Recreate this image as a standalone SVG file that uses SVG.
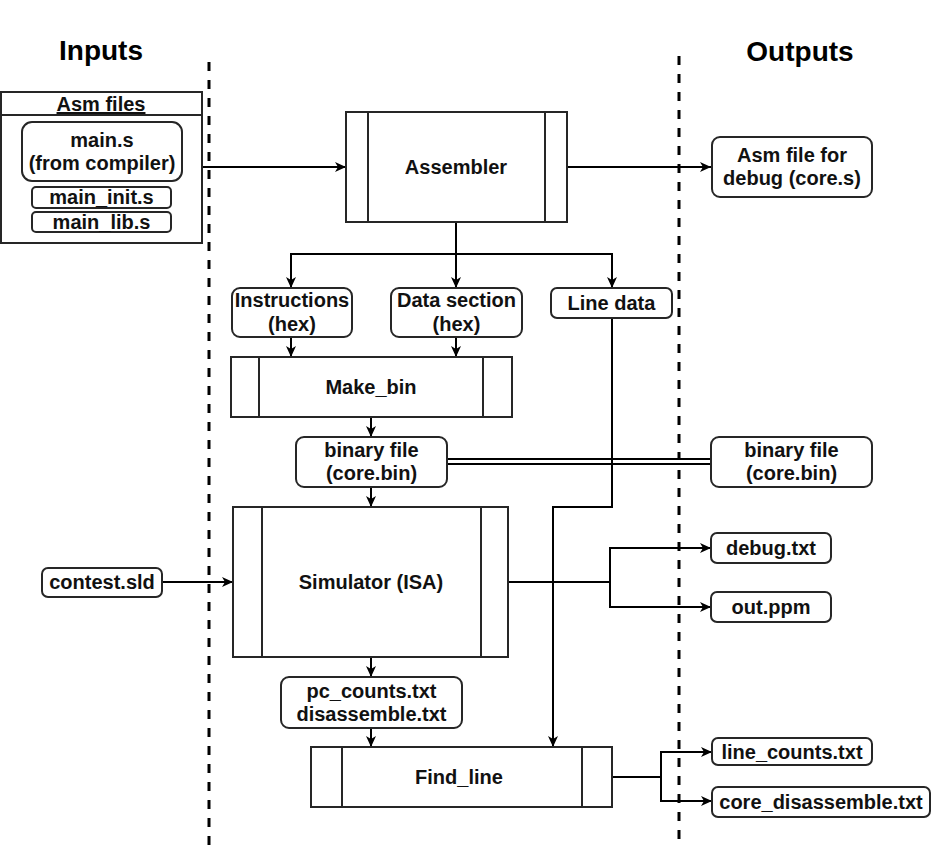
<svg xmlns="http://www.w3.org/2000/svg" width="932" height="848" viewBox="0 0 932 848">
<style>
.box{fill:#fff;stroke:#262626;stroke-width:2}
.t{font-family:"Liberation Sans",Arial,sans-serif;font-weight:bold;font-size:20px;fill:#111;text-anchor:middle}
.title{font-family:"Liberation Sans",Arial,sans-serif;font-weight:bold;font-size:28px;fill:#000;text-anchor:middle}
.c{fill:none;stroke:#000;stroke-width:2}
.ca{fill:none;stroke:#000;stroke-width:2;marker-end:url(#arr)}
.dash{stroke:#000;stroke-width:3;stroke-dasharray:9 9;fill:none}
</style>
<defs>
<marker id="arr" markerUnits="userSpaceOnUse" markerWidth="12" markerHeight="12" refX="11" refY="5" orient="auto" viewBox="0 0 12 10">
<path d="M0,0 L11,5 L0,10 L3,5 Z" fill="#000"/>
</marker>
</defs>
<rect width="932" height="848" fill="#fff"/>

<g id="separators">
<line class="dash" x1="209" y1="62" x2="209" y2="848"/>
<line class="dash" x1="679" y1="56" x2="679" y2="839"/>
</g>

<g id="titles">
<text class="title" x="101" y="60">Inputs</text>
<text class="title" x="800" y="61">Outputs</text>
</g>

<g id="connectors">
<path class="ca" d="M202,167 H346"/>
<path class="ca" d="M567,167 H711"/>
<path class="ca" d="M456,222 V254 H291 V288"/>
<path class="ca" d="M456,222 V288"/>
<path class="ca" d="M456,254 H612 V288"/>
<path class="ca" d="M291,337 V357"/>
<path class="ca" d="M456,337 V357"/>
<path class="ca" d="M371,417 V437"/>
<path d="M447,461.5 H711" fill="none" stroke="#000" stroke-width="7"/>
<path d="M446,461.5 H712" fill="none" stroke="#fff" stroke-width="3"/>
<path class="ca" d="M371,487 V507"/>
<path class="ca" d="M612,318 V507 H553 V747"/>
<path class="ca" d="M162,582 H233"/>
<path class="ca" d="M508,582 H610 V548 H711"/>
<path class="ca" d="M610,582 V607 H711"/>
<path class="ca" d="M371,657 V677"/>
<path class="ca" d="M371,728 V747"/>
<path class="ca" d="M612,777 H661 V752 H712"/>
<path class="ca" d="M661,777 V801 H712"/>
</g>

<g id="asm-files">
<rect class="box" x="1" y="92" width="201" height="151"/>
<line x1="1" y1="115" x2="202" y2="115" stroke="#262626" stroke-width="2"/>
<text class="t" x="101" y="111" text-decoration="underline">Asm files</text>
</g>
<g id="main-s">
<rect class="box" x="22" y="122" width="160" height="59" rx="10"/>
<text class="t" x="102" y="147">main.s</text>
<text class="t" x="102" y="170">(from compiler)</text>
</g>
<g id="main-init">
<rect class="box" x="32" y="187" width="139" height="21" rx="4"/>
<text class="t" x="101.5" y="204">main_init.s</text>
</g>
<g id="main-lib">
<rect class="box" x="32" y="212" width="139" height="20" rx="4"/>
<text class="t" x="101.5" y="229">main_lib.s</text>
</g>

<g id="assembler">
<rect class="box" x="346" y="112" width="221" height="110"/>
<line x1="368" y1="112" x2="368" y2="222" stroke="#262626" stroke-width="2"/>
<line x1="545" y1="112" x2="545" y2="222" stroke="#262626" stroke-width="2"/>
<text class="t" x="456" y="174">Assembler</text>
</g>

<g id="asm-debug">
<rect class="box" x="712" y="137" width="160" height="60" rx="8"/>
<text class="t" x="792" y="162">Asm file for</text>
<text class="t" x="792" y="185">debug (core.s)</text>
</g>

<g id="instructions">
<rect class="box" x="232" y="288" width="120" height="49" rx="8"/>
<text class="t" x="292" y="307">Instructions</text>
<text class="t" x="292" y="331">(hex)</text>
</g>
<g id="data-section">
<rect class="box" x="391" y="288" width="131" height="49" rx="8"/>
<text class="t" x="456.5" y="307">Data section</text>
<text class="t" x="456.5" y="331">(hex)</text>
</g>
<g id="line-data">
<rect class="box" x="551" y="288" width="121" height="30" rx="6"/>
<text class="t" x="611.5" y="310">Line data</text>
</g>

<g id="make-bin">
<rect class="box" x="231" y="357" width="281" height="60"/>
<line x1="259" y1="357" x2="259" y2="417" stroke="#262626" stroke-width="2"/>
<line x1="483" y1="357" x2="483" y2="417" stroke="#262626" stroke-width="2"/>
<text class="t" x="371" y="394">Make_bin</text>
</g>

<g id="binary-file">
<rect class="box" x="296" y="437" width="151" height="50" rx="8"/>
<text class="t" x="371.5" y="457">binary file</text>
<text class="t" x="371.5" y="480">(core.bin)</text>
</g>
<g id="binary-file-out">
<rect class="box" x="711" y="437" width="161" height="50" rx="8"/>
<text class="t" x="791.5" y="457">binary file</text>
<text class="t" x="791.5" y="480">(core.bin)</text>
</g>

<g id="simulator">
<rect class="box" x="233" y="507" width="275" height="150"/>
<line x1="262" y1="507" x2="262" y2="657" stroke="#262626" stroke-width="2"/>
<line x1="481" y1="507" x2="481" y2="657" stroke="#262626" stroke-width="2"/>
<text class="t" x="371" y="589">Simulator (ISA)</text>
</g>

<g id="contest-sld">
<rect class="box" x="42" y="568" width="120" height="29" rx="6"/>
<text class="t" x="102" y="589">contest.sld</text>
</g>

<g id="debug-txt">
<rect class="box" x="711" y="533" width="120" height="30" rx="6"/>
<text class="t" x="771" y="555">debug.txt</text>
</g>
<g id="out-ppm">
<rect class="box" x="711" y="592" width="120" height="30" rx="6"/>
<text class="t" x="771" y="614">out.ppm</text>
</g>

<g id="pc-counts">
<rect class="box" x="281" y="677" width="181" height="51" rx="8"/>
<text class="t" x="371.5" y="698">pc_counts.txt</text>
<text class="t" x="371.5" y="721">disassemble.txt</text>
</g>

<g id="find-line">
<rect class="box" x="311" y="747" width="301" height="60"/>
<line x1="342" y1="747" x2="342" y2="807" stroke="#262626" stroke-width="2"/>
<line x1="582" y1="747" x2="582" y2="807" stroke="#262626" stroke-width="2"/>
<text class="t" x="459" y="784">Find_line</text>
</g>

<g id="line-counts">
<rect class="box" x="712" y="738" width="160" height="27" rx="6"/>
<text class="t" x="792" y="759">line_counts.txt</text>
</g>
<g id="core-disassemble">
<rect class="box" x="712" y="787" width="218" height="30" rx="6"/>
<text class="t" x="821" y="809">core_disassemble.txt</text>
</g>
</svg>
